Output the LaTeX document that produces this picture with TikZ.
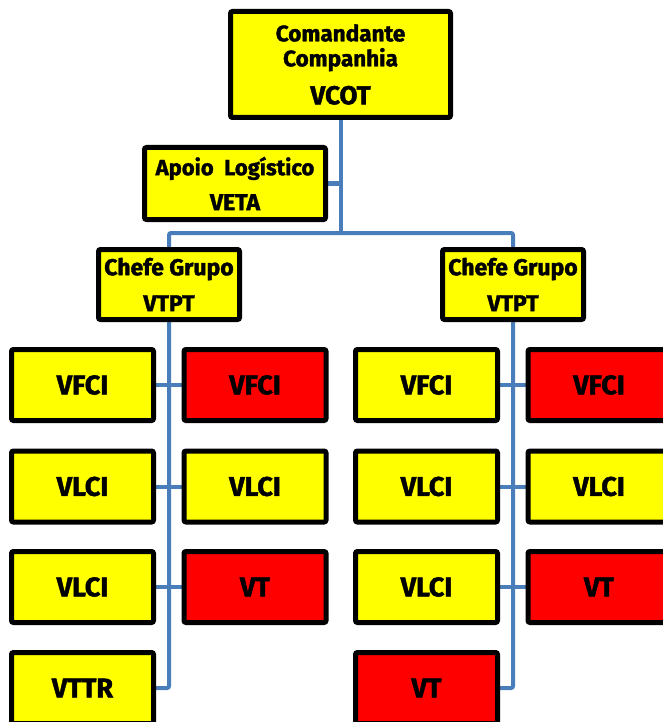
\documentclass[tikz,border=0pt]{standalone}
\usepackage{fontspec}
\setmainfont{Fira Sans}[BoldFont={Fira Sans Bold}, BoldFeatures={FakeBold=1.6}]
\usetikzlibrary{backgrounds}
\definecolor{linkblue}{HTML}{4A7EBB}
\definecolor{boxyellow}{HTML}{FFFF00}
\definecolor{boxred}{HTML}{FF0000}
\begin{document}
\begin{tikzpicture}[x=1pt,y=-1pt,
 box/.style={draw=black, line width=5pt, rounded corners=2pt, inner sep=0pt, align=center, text=black},
 ybox/.style={box, fill=boxyellow},
 rbox/.style={box, fill=boxred},
 unit/.style={minimum width=142pt, minimum height=71pt, font=\bfseries\fontsize{27}{30}\selectfont},
 chief/.style={ybox, minimum width=141pt, minimum height=70pt, font=\bfseries\fontsize{23}{36}\selectfont},
 link/.style={draw=linkblue, line width=4pt, rounded corners=2pt}]
\useasboundingbox (0,0) rectangle (663,722);

\node[ybox, minimum width=220pt, minimum height=106pt, font=\bfseries\fontsize{22.5}{25}\selectfont] (top) at (340.5,64.5)
  {Comandante\\Companhia\\[13pt]{\fontsize{26}{25}\selectfont VCOT}};
\node[ybox, minimum width=181pt, minimum height=72pt, font=\bfseries\fontsize{22}{35}\selectfont] (apoio) at (235,183.5)
  {Apoio\ \ Logístico\\{\fontsize{23}{35}\selectfont VETA}};
\node[chief] (lchefe) at (169,284.5) {Chefe Grupo\\VTPT};
\node[chief] (rchefe) at (513,284.5) {Chefe Grupo\\VTPT};

% left group
\node[ybox,unit] (la1) at (82.5,385) {VFCI};
\node[ybox,unit] (la2) at (82.5,486.5) {VLCI};
\node[ybox,unit] (la3) at (82.5,587) {VLCI};
\node[ybox,unit] (la4) at (82.5,688) {VTTR};
\node[rbox,unit] (lb1) at (255,385) {VFCI};
\node[ybox,unit] (lb2) at (255,486.5) {VLCI};
\node[rbox,unit] (lb3) at (255,587) {VT};
% right group
\node[ybox,unit] (ra1) at (426.5,385) {VFCI};
\node[ybox,unit] (ra2) at (426.5,486.5) {VLCI};
\node[ybox,unit] (ra3) at (426.5,587) {VLCI};
\node[rbox,unit] (ra4) at (426.5,688) {VT};
\node[rbox,unit] (rb1) at (599,385) {VFCI};
\node[ybox,unit] (rb2) at (599,486.5) {VLCI};
\node[rbox,unit] (rb3) at (599,587) {VT};

\begin{scope}[on background layer]
\coordinate (bus) at (340.5,233);
\draw[link] (top.south) -- (bus);
\draw[link] (apoio.east) -- (apoio.east -| top.south);
\draw[link] (lchefe.north) |- (bus) -| (rchefe.north);
\draw[link] (lchefe.south) |- (la4.east);
\draw[link] (rchefe.south) |- (ra4.east);
\draw[link] (la1.east) -- (lb1.west);
\draw[link] (la2.east) -- (lb2.west);
\draw[link] (la3.east) -- (lb3.west);
\draw[link] (ra1.east) -- (rb1.west);
\draw[link] (ra2.east) -- (rb2.west);
\draw[link] (ra3.east) -- (rb3.west);
\end{scope}
\end{tikzpicture}
\end{document}
